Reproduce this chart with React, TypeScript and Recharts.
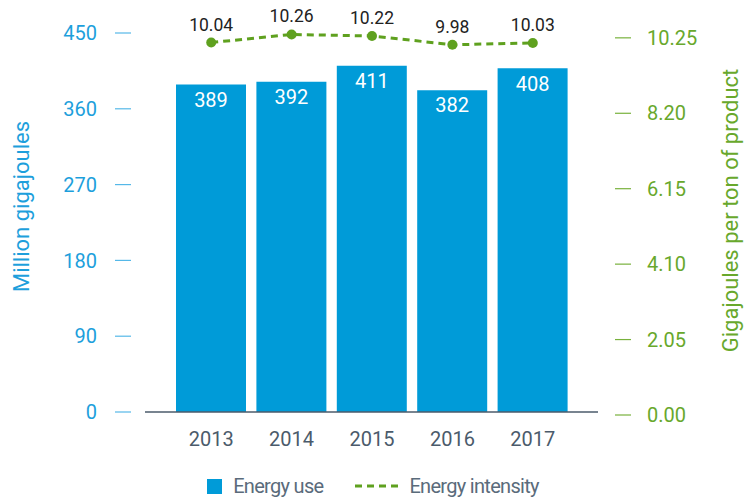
import {
  Bar,
  ComposedChart,
  LabelList,
  Legend,
  Line,
  XAxis,
  YAxis,
} from "recharts";

const years = ["2013", "2014", "2015", "2016", "2017"];
const energyUse = [389, 392, 411, 382, 408];
const energyIntensity = [10.04, 10.26, 10.22, 9.98, 10.03];
const leftTicks = [0, 90, 180, 270, 360, 450];
const rightTicks = [0, 2.05, 4.1, 6.15, 8.2, 10.25];

const BLUE = "#009bd8";
const BLUE_TEXT = "#1d9fdc";
const GREEN = "#5fa11f";
const GREEN_TEXT = "#68a82c";
const SLATE = "#4b5b6b";

const data = years.map((year, i) => ({
  year,
  use: energyUse[i],
  intensity: energyIntensity[i],
}));

function LeftTick({ x, y, payload }: any) {
  return (
    <g>
      <line x1={x - 30} x2={x - 14} y1={y} y2={y} stroke="#55b8e8" strokeWidth={1.2} />
      <text x={x - 48} y={y} dy="0.36em" textAnchor="end" fill={BLUE_TEXT} fontSize={20}>
        {payload.value}
      </text>
    </g>
  );
}

function RightTick({ x, y, payload }: any) {
  return (
    <g transform="translate(0,3)">
      <line x1={x + 17} x2={x + 33} y1={y} y2={y} stroke="#78b13c" strokeWidth={1.2} />
      <text x={x + 49} y={y} dy="0.36em" textAnchor="start" fill={GREEN_TEXT} fontSize={20}>
        {Number(payload.value).toFixed(2)}
      </text>
    </g>
  );
}

function LeftTitle({ viewBox }: any) {
  const cx = viewBox.x + 21;
  const cy = viewBox.y + viewBox.height / 2 - 16;
  return (
    <text x={cx} y={cy} dy="0.36em" textAnchor="middle" fill={BLUE_TEXT} fontSize={22}
      transform={`rotate(-90 ${cx} ${cy})`}>
      Million gigajoules
    </text>
  );
}

function RightTitle({ viewBox }: any) {
  const cx = viewBox.x + 132;
  const cy = viewBox.y + viewBox.height / 2 - 12;
  return (
    <text x={cx} y={cy} dy="0.36em" textAnchor="middle" fill={GREEN_TEXT} fontSize={22}
      transform={`rotate(-90 ${cx} ${cy})`}>
      Gigajoules per ton of product
    </text>
  );
}

function ChartLegend() {
  const text = { color: "#5a6b7b", fontSize: 20, letterSpacing: "-0.7px" };
  return (
    <div style={{ height: 24, display: "flex", justifyContent: "center", alignItems: "center" }}>
      <span style={{ width: 15, height: 15, background: BLUE, display: "inline-block", marginRight: 11 }} />
      <span style={{ ...text, marginRight: 32 }}>Energy use</span>
      <svg width={44} height={4} style={{ marginRight: 10 }}>
        <line x1={0} x2={44} y1={2} y2={2} stroke={GREEN} strokeWidth={3} strokeDasharray="7 5" />
      </svg>
      <span style={text}>Energy intensity</span>
    </div>
  );
}

export default function App() {
  return (
    <div style={{ position: "fixed", left: 0, top: 0, width: 746, height: 498, background: "#fff", fontFamily: "Roboto, sans-serif" }}>
      <ComposedChart width={746} height={498} data={data} margin={{ top: 33, right: 0, bottom: 0, left: 0 }}>
        <XAxis
          dataKey="year"
          padding={{ left: 26, right: 25 }}
          height={62}
          axisLine={{ stroke: SLATE, strokeWidth: 1.5 }}
          tickLine={false}
          tickSize={0}
          tickMargin={20}
          tick={{ fill: SLATE, fontSize: 20 }}
        />
        <YAxis
          yAxisId="left"
          orientation="left"
          width={145}
          domain={[0, 450]}
          ticks={leftTicks}
          axisLine={false}
          tickLine={false}
          tickSize={0}
          tickMargin={0}
          tick={<LeftTick />}
          label={{ content: <LeftTitle /> }}
        />
        <YAxis
          yAxisId="right"
          orientation="right"
          width={148}
          domain={[0, 10.3]}
          ticks={rightTicks}
          axisLine={false}
          tickLine={false}
          tickSize={0}
          tickMargin={0}
          tick={<RightTick />}
          label={{ content: <RightTitle /> }}
        />
        <Legend verticalAlign="bottom" content={<ChartLegend />} />
        <Bar yAxisId="left" dataKey="use" fill={BLUE} barSize={70} isAnimationActive={false}>
          <LabelList dataKey="use" position="insideTop" offset={8} fill="#fff" fontSize={20} />
        </Bar>
        <Line
          yAxisId="right"
          type="linear"
          dataKey="intensity"
          stroke={GREEN}
          strokeWidth={3}
          strokeDasharray="7 5"
          dot={{ r: 5, fill: GREEN, stroke: "none" }}
          isAnimationActive={false}
        >
          <LabelList dataKey="intensity" position="top" offset={12} fill="#222" fontSize={17.5} />
        </Line>
      </ComposedChart>
    </div>
  );
}
